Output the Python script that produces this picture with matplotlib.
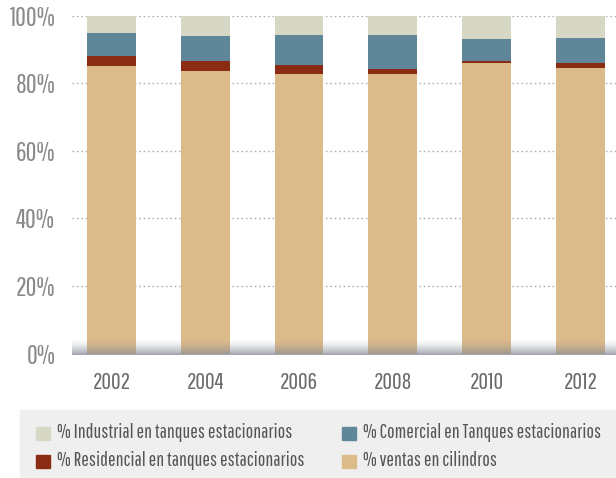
import numpy as np
import matplotlib.pyplot as plt
from matplotlib.patches import Rectangle

years = ['2002', '2004', '2006', '2008', '2010', '2012']
cilindros = [85.0, 83.7, 82.6, 82.6, 85.8, 84.4]
residencial = [3.1, 2.9, 2.8, 1.5, 0.8, 1.5]
comercial = [6.8, 7.4, 8.9, 10.2, 6.3, 7.3]
industrial = [5.1, 6.0, 5.7, 5.7, 7.1, 6.8]

series = [
    ('% ventas en cilindros', cilindros, '#dcbb8a'),
    ('% Residencial en tanques estacionarios', residencial, '#8a2b14'),
    ('% Comercial en Tanques estacionarios', comercial, '#5f8799'),
    ('% Industrial en tanques estacionarios', industrial, '#d7d7c5'),
]

plt.rcParams['font.family'] = ['Pathway Gothic One', 'Roboto Condensed', 'DejaVu Sans']

fig = plt.figure(figsize=(6.16, 4.78), dpi=100)
ax = fig.add_axes([72 / 616, 1 - 353.5 / 478, 544 / 616, 338 / 478])

x = np.arange(len(years))
bottom = np.zeros(len(years))
for name, vals, col in series:
    ax.bar(x, vals, width=0.52, bottom=bottom, color=col, zorder=2)
    bottom += np.array(vals)

ax.set_yticks([0, 20, 40, 60, 80, 100])
ax.set_yticklabels(['0%', '20%', '40%', '60%', '80%', '100%'])
ax.set_xticks(x)
ax.set_xticklabels(years)
ax.tick_params(length=0)
ax.tick_params(axis='y', colors='#8a8a8a', pad=12, labelsize=19)
ax.tick_params(axis='x', colors='#6a6a6a', pad=13, labelsize=17)
ax.yaxis.grid(True, linestyle=(0, (1.2, 2)), color='#b0b0b0', lw=1, zorder=1)
for s in ax.spines.values():
    s.set_visible(False)

# grey shading at the base, drawn over the bars
n = 60
grad = np.zeros((n, 1, 4))
grad[:, 0, 0] = 0.52
grad[:, 0, 1] = 0.54
grad[:, 0, 2] = 0.58
grad[:, 0, 3] = np.linspace(0, 0.85, n) ** 1.6
xl = (-0.42, 5.38)
ax.imshow(grad, extent=(xl[0], xl[1], -0.4, 4.6), aspect='auto',
          origin='upper', zorder=3, clip_on=False)
ax.set_xlim(*xl)
ax.set_ylim(0, 100)

# legend panel
fig.patches.append(Rectangle((20 / 616, 0), 1, 68 / 478, transform=fig.transFigure,
                             color='#efefef', zorder=0))
legend_pos = [
    (3, 43, 433, 57), (2, 349, 433, 363),
    (1, 43, 461, 57), (0, 349, 461, 363),
]
for idx, px, py, tx in legend_pos:
    name, vals, col = series[idx]
    fig.patches.append(Rectangle(((px - 7) / 616, 1 - (py + 6.5) / 478), 14 / 616, 13 / 478,
                                 transform=fig.transFigure, color=col))
    fig.text(tx / 616, 1 - py / 478, name, fontsize=14.3, color='#555555',
             va='center', ha='left')

fig.savefig('out.png', dpi=100)
